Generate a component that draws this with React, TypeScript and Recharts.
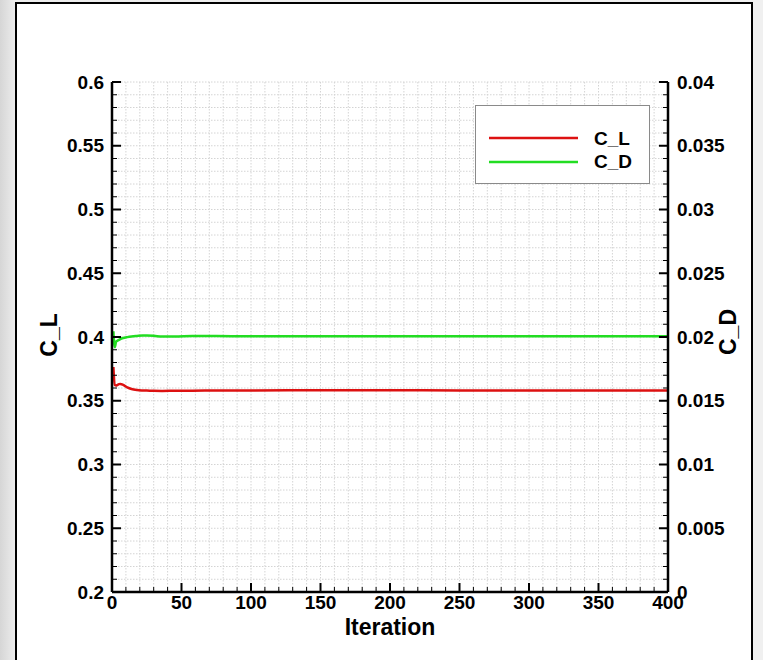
import React from 'react';
import { LineChart, Line, XAxis, YAxis, CartesianGrid, Legend } from 'recharts';

// ---------- data ----------
const iterations = [1, 2, 3, 4, 5, 6, 8, 11, 14, 18, 22, 25, 30, 36, 45, 58, 75, 100, 150, 200, 250, 300, 350, 400];
const clValues = [
  0.3765, 0.3625, 0.362, 0.3625, 0.363, 0.3632, 0.3625, 0.3605, 0.3592, 0.3584, 0.3581, 0.358,
  0.3578, 0.3577, 0.3578, 0.3579, 0.358, 0.3581, 0.3582, 0.3582, 0.3581, 0.358, 0.358, 0.358,
];
const cdValues = [
  0.02045, 0.0192, 0.01965, 0.01972, 0.01978, 0.01984, 0.01992, 0.01999, 0.02004, 0.02008, 0.02011, 0.02011,
  0.02009, 0.02004, 0.02004, 0.02008, 0.02007, 0.02006, 0.02006, 0.02006, 0.02006, 0.02006, 0.02006, 0.02006,
];
const seriesNames = ['C_L', 'C_D'];
const seriesColors = ['#dd1111', '#22dd22'];

const xMajorTicks = [0, 50, 100, 150, 200, 250, 300, 350, 400];
const yLeftMajorTicks = [0.2, 0.25, 0.3, 0.35, 0.4, 0.45, 0.5, 0.55, 0.6];
const yRightMajorTicks = [0, 0.005, 0.01, 0.015, 0.02, 0.025, 0.03, 0.035, 0.04];

const titleText = 'Re = 7M, AOA = 1.5deg, Mach=0.8, Static Aeroelastic';
const xLabelText = 'Iteration';
const yLeftLabelText = 'C_L';
const yRightLabelText = 'C_D';

const data = iterations.map((it, i) => ({ iter: it, cl: clValues[i], cd: cdValues[i] }));

function subdivide(major: number[], n: number): number[] {
  const out: number[] = [];
  for (let i = 0; i < major.length - 1; i++) {
    const a = major[i];
    const b = major[i + 1];
    for (let k = 0; k < n; k++) out.push(+(a + ((b - a) * k) / n).toFixed(6));
  }
  out.push(major[major.length - 1]);
  return out;
}

const xAllTicks = subdivide(xMajorTicks, 5);
const yLeftAllTicks = subdivide(yLeftMajorTicks, 5);
const yRightAllTicks = subdivide(yRightMajorTicks, 5);

const FONT = '"Liberation Sans", Arial, Helvetica, sans-serif';
const TICK_FS = 19;

const isMajor = (v: number, majors: number[]) => majors.some((m) => Math.abs(m - v) < 1e-9);
const fmt = (v: number) => String(Math.round(v * 100000) / 100000);

const LeftTick = (props: any) => {
  const { x, y, payload } = props;
  const major = isMajor(payload.value, yLeftMajorTicks);
  return (
    <g>
      <line x1={x} x2={x + (major ? 9 : 5)} y1={y} y2={y} stroke="#000" strokeWidth={major ? 2 : 1} />
      {major && (
        <text x={x - 8} y={y + 6.5} textAnchor="end" fontSize={TICK_FS} fontWeight="bold" fontFamily={FONT} fill="#000">
          {fmt(payload.value)}
        </text>
      )}
    </g>
  );
};

const RightTick = (props: any) => {
  const { x, y, payload } = props;
  const major = isMajor(payload.value, yRightMajorTicks);
  return (
    <g>
      <line x1={x} x2={x - (major ? 9 : 5)} y1={y} y2={y} stroke="#000" strokeWidth={major ? 2 : 1} />
      {major && (
        <text x={x + 9} y={y + 6.5} textAnchor="start" fontSize={TICK_FS} fontWeight="bold" fontFamily={FONT} fill="#000">
          {fmt(payload.value)}
        </text>
      )}
    </g>
  );
};

const BottomTick = (props: any) => {
  const { x, y, payload } = props;
  const major = isMajor(payload.value, xMajorTicks);
  return (
    <g>
      <line x1={x} x2={x} y1={y} y2={y - (major ? 9 : 5)} stroke="#000" strokeWidth={major ? 2 : 1} />
      {major && (
        <text x={x} y={y + 17} textAnchor="middle" fontSize={TICK_FS} fontWeight="bold" fontFamily={FONT} fill="#000">
          {fmt(payload.value)}
        </text>
      )}
    </g>
  );
};

const renderLegend = (props: any) => {
  const raw = (props.payload || []) as any[];
  const payload = [...raw].sort((a, b) => seriesNames.indexOf(a.value) - seriesNames.indexOf(b.value));
  return (
    <div
      style={{
        width: 175,
        height: 79,
        boxSizing: 'border-box',
        border: '1.5px solid #8a8a8a',
        background: '#fff',
      }}
    >
      <svg width={172} height={76} style={{ display: 'block' }}>
        {payload.map((entry, i) => (
          <g key={i}>
            <line x1={13} x2={102} y1={32 + i * 24} y2={32 + i * 24} stroke={entry.color} strokeWidth={2.5} />
            <text x={118} y={39 + i * 23} fontSize={19} fontWeight="bold" fontFamily={FONT} fill="#000">
              {entry.value}
            </text>
          </g>
        ))}
      </svg>
    </div>
  );
};

export default function App() {
  return (
    <div
      style={{
        position: 'absolute',
        left: 0,
        top: 0,
        width: 763,
        height: 660,
        overflow: 'hidden',
        background: 'linear-gradient(to right, #d6d6d6, #ececec 15px, #f0f0f0)',
      }}
    >
      <div
        style={{
          position: 'absolute',
          left: 15,
          top: 2,
          width: 738,
          height: 680,
          boxSizing: 'border-box',
          border: '2px solid #000',
          background: '#fff',
        }}
      />
      <div style={{ position: 'absolute', left: 0, top: 0 }}>
        <LineChart width={763} height={660} data={data} margin={{ top: 82, right: 35, bottom: 28, left: 52 }}>
          <CartesianGrid
            xAxisId="bottom"
            yAxisId="left"
            stroke="#d4d4d4"
            strokeDasharray="1.5 1.5"
            strokeWidth={1}
          />
          <XAxis
            xAxisId="bottom"
            dataKey="iter"
            type="number"
            domain={[0, 400]}
            ticks={xAllTicks}
            interval={0}
            height={40}
            tickSize={0}
            tickMargin={0}
            tickLine={false}
            axisLine={{ stroke: '#000', strokeWidth: 2.5 }}
            tick={BottomTick}
            label={{
              content: (p: any) => {
                const vb = p.viewBox;
                return (
                  <text
                    x={vb.x + vb.width / 2}
                    y={vb.y + 43}
                    textAnchor="middle"
                    fontSize={23}
                    fontWeight="bold"
                    fontFamily={FONT}
                    fill="#000"
                  >
                    {xLabelText}
                  </text>
                );
              },
            }}
          />
          <XAxis
            xAxisId="top"
            orientation="top"
            dataKey="iter"
            type="number"
            domain={[0, 400]}
            height={0}
            tick={false}
            tickLine={false}
            axisLine={{ stroke: '#000', strokeWidth: 2.5 }}
            label={{
              content: (p: any) => {
                const vb = p.viewBox;
                return (
                  <text
                    x={vb.x + vb.width / 2}
                    y={vb.y - 14}
                    textAnchor="middle"
                    fontSize={21}
                    fontWeight="bold"
                    fontFamily={FONT}
                    fill="#000"
                  >
                    {titleText}
                  </text>
                );
              },
            }}
          />
          <YAxis
            yAxisId="left"
            type="number"
            domain={[0.2, 0.6]}
            ticks={yLeftAllTicks}
            interval={0}
            width={60}
            tickSize={0}
            tickMargin={0}
            tickLine={false}
            axisLine={{ stroke: '#000', strokeWidth: 2.5 }}
            tick={LeftTick}
            label={{
              content: (p: any) => {
                const vb = p.viewBox;
                const cx = vb.x + 5;
                const cy = vb.y + vb.height / 2 - 2;
                return (
                  <text
                    x={cx}
                    y={cy}
                    transform={`rotate(-90, ${cx}, ${cy})`}
                    textAnchor="middle"
                    fontSize={23}
                    fontWeight="bold"
                    fontFamily={FONT}
                    fill="#000"
                  >
                    {yLeftLabelText}
                  </text>
                );
              },
            }}
          />
          <YAxis
            yAxisId="right"
            orientation="right"
            type="number"
            domain={[0, 0.04]}
            ticks={yRightAllTicks}
            interval={0}
            width={60}
            tickSize={0}
            tickMargin={0}
            tickLine={false}
            axisLine={{ stroke: '#000', strokeWidth: 2.5 }}
            tick={RightTick}
            label={{
              content: (p: any) => {
                const vb = p.viewBox;
                const cx = vb.x + 68;
                const cy = vb.y + vb.height / 2 - 5;
                return (
                  <text
                    x={cx}
                    y={cy}
                    transform={`rotate(-90, ${cx}, ${cy})`}
                    textAnchor="middle"
                    fontSize={23}
                    fontWeight="bold"
                    fontFamily={FONT}
                    fill="#000"
                  >
                    {yRightLabelText}
                  </text>
                );
              },
            }}
          />
          <Legend
            content={renderLegend}
            layout="vertical"
            align="center"
            verticalAlign="middle"
            wrapperStyle={{ left: 475, top: 105, width: 175, height: 79 }}
          />
          <Line
            xAxisId="bottom"
            yAxisId="left"
            type="monotone"
            dataKey="cl"
            name={seriesNames[0]}
            stroke={seriesColors[0]}
            strokeWidth={2.5}
            dot={false}
            isAnimationActive={false}
          />
          <Line
            xAxisId="bottom"
            yAxisId="right"
            type="monotone"
            dataKey="cd"
            name={seriesNames[1]}
            stroke={seriesColors[1]}
            strokeWidth={2.5}
            dot={false}
            isAnimationActive={false}
          />
        </LineChart>
      </div>
    </div>
  );
}
